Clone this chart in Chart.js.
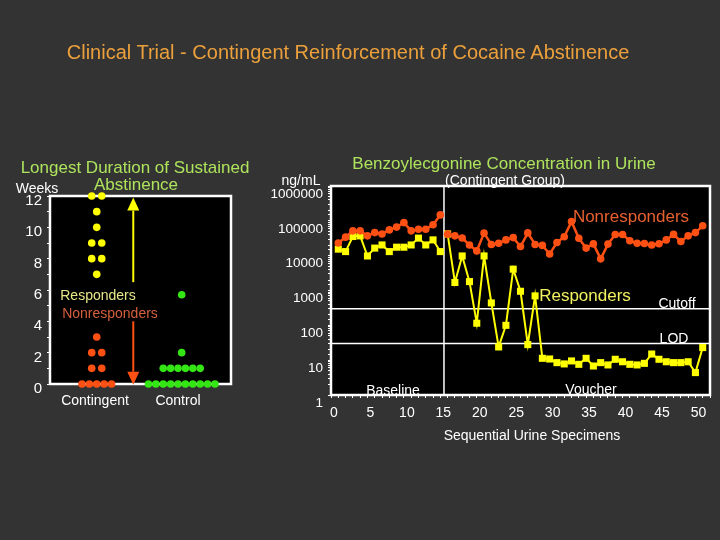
<!DOCTYPE html>
<html><head><meta charset="utf-8">
<script src="https://cdn.jsdelivr.net/npm/chart.js@4"></script>
<style>
html,body{margin:0;padding:0;background:#333333;}
#wrap{position:relative;width:720px;height:540px;overflow:hidden;font-family:"Liberation Sans",Arial,sans-serif;}
canvas{position:absolute;left:0;top:0;}
.t{position:absolute;white-space:nowrap;line-height:1;transform:translate(-50%,-50%);color:#ffffff;font-size:14px;}
</style></head><body>
<div id="wrap">
<canvas id="left" width="720" height="540"></canvas>
<canvas id="right" width="720" height="540"></canvas>

<div class="t" style="left:348px;top:52px;font-size:20px;color:#eba03c">Clinical Trial - Contingent Reinforcement of Cocaine Abstinence</div>

<div class="t" style="left:135px;top:167px;font-size:17px;color:#aee35c">Longest Duration of Sustained</div>
<div class="t" style="left:136px;top:184px;font-size:17px;color:#aee35c">Abstinence</div>
<div class="t" style="left:37px;top:188px;">Weeks</div>
<div class="t" style="left:98px;top:295px;color:#e6e68a">Responders</div>
<div class="t" style="left:110px;top:313px;color:#d4603c">Nonresponders</div>
<div class="t" style="left:95px;top:400px;">Contingent</div>
<div class="t" style="left:178px;top:400px;">Control</div>

<div class="t" style="left:504px;top:163px;font-size:17px;color:#aee35c">Benzoylecgonine Concentration in Urine</div>
<div class="t" style="left:505px;top:180px;">(Contingent Group)</div>
<div class="t" style="left:301px;top:180px;">ng/mL</div>
<div class="t" style="left:631px;top:216px;font-size:17px;color:#e86030">Nonresponders</div>
<div class="t" style="left:585px;top:295px;font-size:17px;color:#f0f060">Responders</div>
<div class="t" style="left:677px;top:303px;">Cutoff</div>
<div class="t" style="left:674px;top:338px;">LOD</div>
<div class="t" style="left:393px;top:390px;">Baseline</div>
<div class="t" style="left:591px;top:389px;">Voucher</div>
<div class="t" style="left:532px;top:435px;">Sequential Urine Specimens</div>
</div>

<script>
// ---------- Left chart data (weeks of sustained abstinence) ----------
const groups = ['Contingent', 'Control'];
const contingentResponders = [12, 12, 11, 10, 9, 9, 8, 8, 7];
const contingentNonresponders = [3, 2, 2, 1, 1, 0, 0, 0, 0, 0];
const controlWeeks = [5.7, 2, 1, 1, 1, 1, 1, 1, 0, 0, 0, 0, 0, 0, 0, 0, 0, 0];
const weekTickLabels = [0, 2, 4, 6, 8, 10, 12];

// ---------- Right chart data (benzoylecgonine, ng/mL) ----------
const specimens = [1,2,3,4,5,6,7,8,9,10,11,12,13,14,15,16,17,18,19,20,21,22,23,24,25,26,27,28,29,30,31,32,33,34,35,36,37,38,39,40,41,42,43,44,45,46,47,48,49,50,51];
const baselineCount = 15;
const nonresponders = [23000, 34000, 51500, 51500, 37000, 46000, 42000, 55000, 66000, 89000, 51500, 57600, 57600, 77000, 148000,
  41500, 37000, 32000, 20300, 13700, 44500, 21000, 22800, 28400, 33000, 18300, 45000, 21000, 19700, 11200, 23800, 35000, 95000, 31500, 16500,
  21800, 8100, 21500, 40500, 40500, 26800, 22800, 22400, 20300, 22000, 28400, 40800, 25500, 37000, 46000, 72000];
const responders = [15400, 13100, 35500, 37000, 9800, 16500, 20300, 13100, 17500, 17500, 20300, 31900, 20300, 28400, 13100,
  42000, 1700, 9800, 1800, 115, 9800, 440, 24, 100, 4100, 950, 28, 700, 11.3, 10.8, 8.5, 7.8, 9.5, 7.6, 11.3,
  6.8, 8.5, 7.3, 10.6, 9.0, 7.6, 7.3, 8.1, 15, 10.6, 9.0, 8.5, 8.5, 9.0, 4.4, 23];
const cutoff = 300;
const lod = 30;
const concTickLabels = [1, 10, 100, 1000, 10000, 100000, 1000000];
const specimenTickLabels = [0, 5, 10, 15, 20, 25, 30, 35, 40, 45, 50];

const FONT = '"Liberation Sans", Arial, sans-serif';
const YELLOW = '#ffff00', ORANGE = '#ff5014', GREEN = '#33e614', WHITE = '#ffffff';

const framePlugin = {
  id: 'frame',
  beforeDraw(chart) {
    const {ctx, chartArea: a} = chart;
    ctx.save(); ctx.fillStyle = '#000000';
    ctx.fillRect(a.left, a.top, a.right - a.left, a.bottom - a.top); ctx.restore();
  },
  beforeDatasetsDraw(chart) {
    const {ctx, chartArea: a} = chart;
    ctx.save(); ctx.strokeStyle = WHITE; ctx.lineWidth = 2.5;
    ctx.strokeRect(a.left, a.top, a.right - a.left, a.bottom - a.top); ctx.restore();
  }
};

const arrowPlugin = {
  id: 'arrows',
  afterDatasetsDraw(chart, args, opts) {
    const {ctx, scales: {x, y}} = chart;
    (opts.items || []).forEach(a => {
      const px = x.getPixelForValue(a.x), y0 = y.getPixelForValue(a.from), y1 = y.getPixelForValue(a.to);
      const dir = Math.sign(y1 - y0), head = 13, hw = 6;
      ctx.save(); ctx.strokeStyle = a.color; ctx.fillStyle = a.color; ctx.lineWidth = 2;
      ctx.beginPath(); ctx.moveTo(px, y0); ctx.lineTo(px, y1 - dir * head); ctx.stroke();
      ctx.beginPath(); ctx.moveTo(px, y1); ctx.lineTo(px - hw, y1 - dir * head); ctx.lineTo(px + hw, y1 - dir * head); ctx.closePath(); ctx.fill();
      ctx.restore();
    });
  }
};

// spread equal values horizontally around a group centre (dot plot layout)
function dotPoints(values, center) {
  const counts = {}, seen = {};
  values.forEach(v => counts[v] = (counts[v] || 0) + 1);
  return values.map(v => {
    const n = counts[v], k = (seen[v] = (seen[v] || 0) + 1) - 1;
    const gap = n <= 2 ? 0.118 : 0.087;
    return {x: center + (k - (n - 1) / 2) * gap, y: v};
  });
}

new Chart(document.getElementById('left'), {
  type: 'scatter',
  data: {
    datasets: [
      {label: 'Responders', data: dotPoints(contingentResponders, 1), backgroundColor: YELLOW, borderWidth: 0, pointRadius: 3.8, clip: false},
      {label: 'Nonresponders', data: dotPoints(contingentNonresponders, 1), backgroundColor: ORANGE, borderWidth: 0, pointRadius: 3.8, clip: false},
      {label: groups[1], data: dotPoints(controlWeeks, 2), backgroundColor: GREEN, borderWidth: 0, pointRadius: 3.8, clip: false}
    ]
  },
  options: {
    responsive: false, animation: false, devicePixelRatio: 1,
    layout: {autoPadding: false, padding: {left: 0, top: 196, right: 489, bottom: 156}},
    plugins: {
      legend: {display: false}, tooltip: {enabled: false},
      arrows: {items: [
        {x: 1.43, from: 6.5, to: 11.9, color: YELLOW},
        {x: 1.43, from: 4.0, to: -0.05, color: ORANGE}
      ]}
    },
    scales: {
      x: {type: 'linear', min: 0.45, max: 2.58, display: false},
      y: {
        min: 0, max: 12,
        afterFit(s) { s.width = 50; },
        border: {display: false},
        grid: {drawOnChartArea: false, color: WHITE, tickLength: 3, lineWidth: 1},
        ticks: {stepSize: 1, autoSkip: false, color: WHITE, padding: 5, labelOffset: 5,
          font: {family: FONT, size: 15},
          callback: v => weekTickLabels.includes(v) ? String(v) : ''}
      }
    }
  },
  plugins: [framePlugin, arrowPlugin]
});

const toXY = vals => specimens.map((s, i) => ({x: s, y: vals[i]}));
const breakSeg = {borderColor: ctx => ctx.p0.parsed.x === specimens[baselineCount - 1] ? 'rgba(0,0,0,0)' : undefined};

new Chart(document.getElementById('right'), {
  type: 'scatter',
  data: {
    datasets: [
      {label: 'Nonresponders', data: toXY(nonresponders), showLine: true, borderColor: ORANGE, backgroundColor: ORANGE,
        borderWidth: 2.5, pointRadius: 3.8, pointBorderWidth: 0, pointStyle: 'circle', segment: breakSeg},
      {label: 'Responders', data: toXY(responders), showLine: true, borderColor: YELLOW, backgroundColor: YELLOW,
        borderWidth: 2, pointRadius: 5, pointBorderWidth: 0, pointStyle: 'rect', segment: breakSeg},
      {label: 'Cutoff', data: [{x: 0, y: cutoff}, {x: 52, y: cutoff}], showLine: true, borderColor: WHITE, borderWidth: 1.5, pointRadius: 0},
      {label: 'LOD', data: [{x: 0, y: lod}, {x: 52, y: lod}], showLine: true, borderColor: WHITE, borderWidth: 1.5, pointRadius: 0},
      {label: 'Phase', data: [{x: baselineCount + 0.5, y: 1}, {x: baselineCount + 0.5, y: 1000000}], showLine: true, borderColor: WHITE, borderWidth: 1.5, pointRadius: 0}
    ]
  },
  options: {
    responsive: false, animation: false, devicePixelRatio: 1,
    layout: {autoPadding: false, padding: {left: 0, top: 186, right: 10, bottom: 115}},
    plugins: {legend: {display: false}, tooltip: {enabled: false}},
    scales: {
      x: {
        type: 'linear', min: 0, max: 52,
        afterFit(s) { s.height = 30; },
        border: {display: false},
        grid: {drawOnChartArea: false, color: WHITE, tickLength: 3, lineWidth: 1},
        ticks: {stepSize: 1, autoSkip: false, maxRotation: 0, color: WHITE, padding: 7, labelOffset: 3,
          font: {family: FONT, size: 14},
          callback: v => specimenTickLabels.includes(v) ? String(v) : ''}
      },
      y: {
        type: 'logarithmic', min: 1, max: 1000000,
        afterFit(s) { s.width = 331; },
        border: {display: false},
        grid: {drawOnChartArea: false, color: WHITE, tickLength: 3, lineWidth: 1},
        ticks: {autoSkip: false, color: WHITE, padding: 5, labelOffset: 8,
          font: {family: FONT, size: 13.5},
          callback: v => concTickLabels.includes(v) ? String(v) : ''}
      }
    }
  },
  plugins: [framePlugin]
});
</script>
</body></html>
